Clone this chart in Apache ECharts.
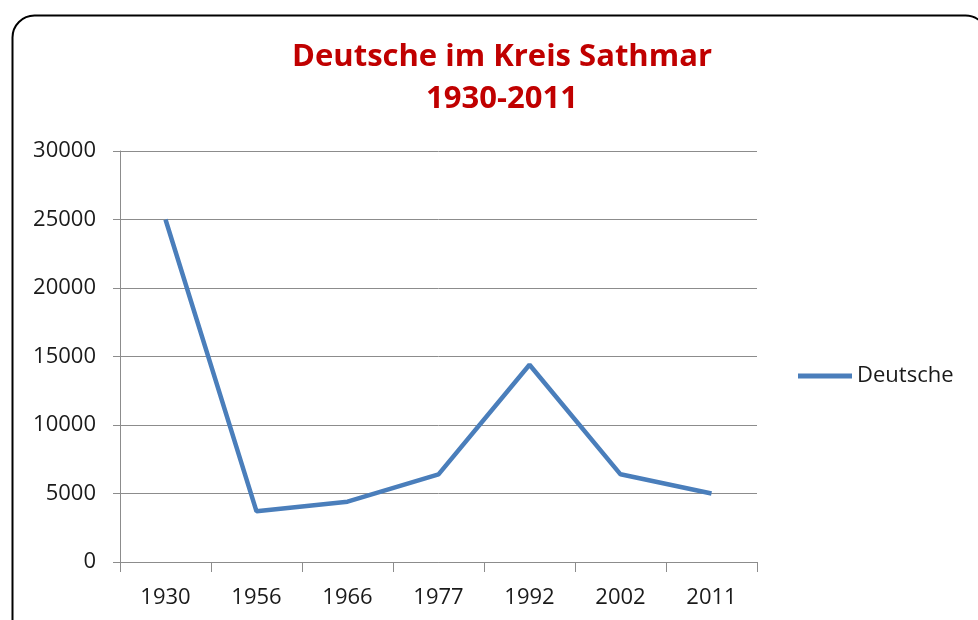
<!DOCTYPE html>
<html>
<head>
<meta charset="utf-8">
<script src="https://cdn.jsdelivr.net/npm/echarts@6/dist/echarts.min.js"></script>
<style>
  html, body { margin: 0; padding: 0; background: #fff; }
  #chart { width: 978px; height: 620px; }
</style>
</head>
<body>
<div id="chart"></div>
<script>
// data
var years = ['1930', '1956', '1966', '1977', '1992', '2002', '2011'];
var deutsche = [25000, 3700, 4400, 6400, 14400, 6400, 5000];
var seriesName = 'Deutsche';

var myChart = echarts.init(document.getElementById('chart'));

var labelFont = { fontFamily: 'Open Sans', fontSize: 22, color: '#1a1a1a' };

var option = {
    backgroundColor: '#fff',
    title: {
        text: 'Deutsche im Kreis Sathmar\n1930-2011',
        left: 497,
        top: 31,
        textAlign: 'center',
        textStyle: {
            fontFamily: 'Open Sans',
            fontSize: 31,
            fontWeight: 'bold',
            color: '#c00000',
            lineHeight: 42
        }
    },
    legend: {
        data: [seriesName],
        orient: 'vertical',
        left: 793,
        top: 360,
        itemWidth: 54,
        itemHeight: 5,
        itemGap: 6,
        icon: 'rect',
        textStyle: labelFont
    },
    grid: { left: 120, right: 221, top: 151, bottom: 58 },
    xAxis: {
        type: 'category',
        data: years,
        boundaryGap: true,
        axisLine: { lineStyle: { color: '#8c8c8c', width: 1 } },
        axisTick: { show: true, length: 10, lineStyle: { color: '#8c8c8c' } },
        axisLabel: Object.assign({ margin: 25 }, labelFont)
    },
    yAxis: {
        type: 'value',
        min: 0,
        max: 30000,
        interval: 5000,
        axisLine: { show: true, lineStyle: { color: '#8c8c8c', width: 1 } },
        axisTick: { show: true, length: 7, lineStyle: { color: '#8c8c8c' } },
        axisLabel: Object.assign({ margin: 24, formatter: function (v) { return String(v); } }, labelFont),
        splitLine: { lineStyle: { color: '#8c8c8c', width: 1 } }
    },
    series: [{
        name: seriesName,
        type: 'line',
        data: deutsche,
        symbol: 'none',
        lineStyle: { color: '#4a7ebb', width: 4.5 },
        itemStyle: { color: '#4a7ebb' }
    }],
    graphic: [{
        type: 'rect',
        left: 10,
        top: 13,
        shape: { width: 975, height: 640, r: 22 },
        style: { fill: null, stroke: '#000', lineWidth: 2 },
        z: 100,
        silent: true
    }]
};

myChart.setOption(option);
</script>
</body>
</html>
